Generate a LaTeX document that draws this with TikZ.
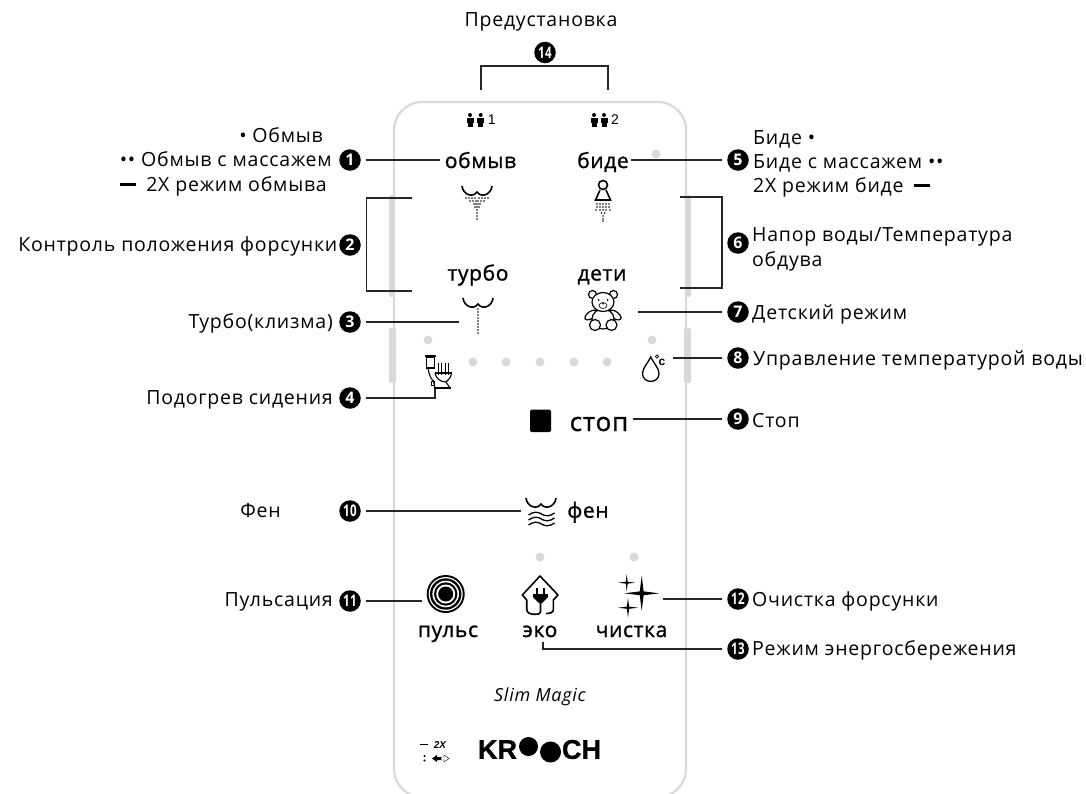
\documentclass[tikz,border=0pt]{standalone}
\usepackage{fontspec}
\setmainfont{Open Sans}[LetterSpace=4]
\newfontfamily\panelfont{Open Sans}[LetterSpace=3,FakeBold=1.1]
\newfontfamily\smallfont{Liberation Sans}
\newfontfamily\logofont{Liberation Sans}[BoldFeatures={FakeBold=1}]
\definecolor{panelgrey}{HTML}{D9D9D9}
\tikzset{
    numdot/.style={circle,fill=black,text=white,minimum size=21.5pt,inner sep=0pt,outer sep=5.5pt,font=\fontsize{16}{16}\selectfont\bfseries},
    lbl/.style={inner sep=0pt,font=\fontsize{19.5}{22}\selectfont},
    btn/.style={inner sep=0pt,anchor=base,font=\fontsize{21}{22}\panelfont},
    lead/.style={line width=1.6pt,black!85},
    panel/.style={line width=2.2pt,panelgrey},
    strip/.style={fill=panelgrey,rounded corners=2pt},
    ico/.style={line width=1.6pt,black}
}
\begin{document}
\begin{tikzpicture}[x=1pt,y=-1pt]
    \useasboundingbox (0,0) rectangle (1086,793);

    % panel
    \fill[strip] (389,195) rectangle (394,297);
    \fill[strip] (389,328) rectangle (396,383);
    \fill[strip] (686,195) rectangle (691,297);
    \fill[strip] (684,328) rectangle (691,383);
    \draw[panel,rounded corners=28pt] (394,102) rectangle (686,797);
    \foreach \dx/\dy in {656/154,428/340,652/340,473/362,506/362,540/362,574/362,607/362,540/557,634/557}
        \fill[panelgrey] (\dx,\dy) circle (4.5pt);

    % numbers
    \node[numdot] (n1) at (350,160) {1};
    \node[numdot] (n2) at (350,245) {2};
    \node[numdot] (n3) at (350,322) {3};
    \node[numdot] (n4) at (350,398) {4};
    \node[numdot] (n5) at (738,160) {5};
    \node[numdot] (n6) at (738,243) {6};
    \node[numdot] (n7) at (738,312) {7};
    \node[numdot] (n8) at (738,358) {8};
    \node[numdot] (n9) at (738,419) {9};
    \node[numdot] (n10) at (350,511) {\scalebox{0.72}[1]{10}};
    \node[numdot] (n11) at (350,601) {\scalebox{0.72}[1]{11}};
    \node[numdot] (n12) at (738,599) {\scalebox{0.72}[1]{12}};
    \node[numdot] (n13) at (738,649) {\scalebox{0.72}[1]{13}};
    \node[numdot] (n14) at (545,52.5) {\scalebox{0.72}[1]{14}};

    % left labels
    \node[lbl,anchor=base east] (l1a) at (323,142) {• Обмыв};
    \node[lbl,anchor=base east] (l1b) at (332,166.5) {•• Обмыв с массажем};
    \node[lbl,anchor=base east] (l1c) at (327,191) {\rule[0.26em]{16pt}{3pt}\hspace{10pt}2X режим обмыва};
    \node[lbl,anchor=base east] (l2) at (337.5,251) {Контроль положения форсунки};
    \node[lbl,anchor=base east] (l3) at (333,328) {Турбо(клизма)};
    \node[lbl,anchor=base east] (l4) at (333,404) {Подогрев сидения};
    \node[lbl,anchor=base east] (l10) at (281,517) {Фен};
    \node[lbl,anchor=base east] (l11) at (333,606) {Пульсация};

    % right labels
    \node[lbl,anchor=base west] (r5a) at (753,144) {Биде •};
    \node[lbl,anchor=base west] (r5b) at (753,168) {Биде с массажем ••};
    \node[lbl,anchor=base west] (r5c) at (753,192) {2X режим биде\hspace{10pt}\rule[0.26em]{16pt}{3pt}};
    \node[lbl,anchor=base west] (r6a) at (752,241) {Напор воды/Температура};
    \node[lbl,anchor=base west] (r6b) at (752,266) {обдува};
    \node[lbl,anchor=base west] (r7) at (752,319) {Детский режим};
    \node[lbl,anchor=base west] (r8) at (753,365) {Управление температурой воды};
    \node[lbl,anchor=base west] (r9) at (752,427) {Стоп};
    \node[lbl,anchor=base west] (r12) at (752,606) {Очистка форсунки};
    \node[lbl,anchor=base west] (r13) at (752,655) {Режим энергосбережения};
    \node[lbl,anchor=base] (t14) at (541,26.7) {Предустановка};

    % buttons
    \node[btn] (obmyv) at (480.5,168) {обмыв};
    \node[btn] (bide) at (603,168) {биде};
    \node[btn] (turbo) at (478,280.5) {турбо};
    \node[btn] (deti) at (602,280.5) {дети};
    \node[btn,font=\fontsize{26}{26}\panelfont] (stop) at (599,431) {стоп};
    \node[btn] (fen) at (588,517.7) {фен};
    \node[btn] (puls) at (448,637) {пульс};
    \node[btn] (eko) at (540,637) {эко};
    \node[btn] (chistka) at (631.5,637) {чистка};
    \node[lbl,font=\fontsize{18}{18}\selectfont\itshape] (model) at (540,697) {Slim Magic};
    \node[inner sep=0pt,font=\fontsize{14}{14}\smallfont] (mem1) at (491.7,120) {1};
    \node[inner sep=0pt,font=\fontsize{14}{14}\smallfont] (mem2) at (615,120) {2};

    % free ends
    \coordinate (c1) at (440,160);
    \coordinate (c5) at (631,160);
    \coordinate (c2a) at (412,198);
    \coordinate (c2b) at (412,291);
    \coordinate (c6a) at (680,197);
    \coordinate (c6b) at (680,288);
    \coordinate (c3) at (459,322);
    \coordinate (c7) at (638,312);
    \coordinate (c8) at (673,358);
    \coordinate (c4) at (435,388);
    \coordinate (c9) at (633,419);
    \coordinate (c10) at (521,511);
    \coordinate (c11) at (422,601);
    \coordinate (c12) at (663,599);
    \coordinate (c13) at (543,642);
    \coordinate (c14a) at (481,90);
    \coordinate (c14b) at (608,90);

    % leaders
    \draw[lead] (n1) -- (c1);
    \draw[lead] (n5) -- (c5);
    \draw[lead] (c2a) -- (366.5,198) -- (366.5,291) -- (c2b);
    \draw[lead] (c6a) -- (722,197) -- (722,288) -- (c6b);
    \draw[lead] (n3) -- (c3);
    \draw[lead] (n7) -- (c7);
    \draw[lead] (n8) -- (c8);
    \draw[lead] (n4) -| (c4);
    \draw[lead] (n9) -- (c9);
    \draw[lead] (n10) -- (c10);
    \draw[lead] (n11) -- (c11);
    \draw[lead] (n12) -- (c12);
    \draw[lead] (n13) -| (c13);
    \draw[lead] (c14a) -- (481,65.7) -- (608,65.7) -- (c14b);

    % people
    \foreach \px in {470,480.7,594,604} {
        \fill (\px,115) circle (2pt);
        \fill (\px-3.5,118) rectangle (\px+3.5,123);
        \fill (\px-2.5,123) rectangle (\px+2.5,126.5);
    }

    % wash curves
    \foreach \ox/\oy in {477/186,478/298,541/498}
        \draw[ico,shift={(\ox,\oy)}] (-15,0) .. controls (-14,9) and (-4,12) .. (0,6) .. controls (4,12) and (14,9) .. (15,0);

    % spray of washing
    \foreach \sx/\sy in {-11/198,-8/198,-5/198,-2/198,2/198,5/198,8/198,11/198,-7/201,-4/201,-1/201,1/201,4/201,7/201,-3/204,-1/204,1/204,3/204,-2/207,0/207,2/207,0/210,0/213,0/216,0/219}
        \fill (477+\sx,\sy) circle (0.9pt);

    % bidet
    \draw[ico] (603,185) circle (4.5pt);
    \draw[ico] (600,190) -- (595.5,200) -- (610.5,200) -- (606,190);
    \foreach \sx/\sy in {-6/204,-3/204,0/204,3/204,6/204,-6/207,-3/207,0/207,3/207,6/207,-3/210,0/210,3/210,-7/210,7/210,-1.5/213,1.5/213,0/216,0/219,0/221}
        \fill (603+\sx,\sy) circle (0.9pt);

    % turbo stream
    \foreach \sy in {309,312,315,318,321,324,327,330,333}
        \fill (478,\sy) circle (0.9pt);

    % bear
    \draw[ico,line width=1.2pt,fill=white] (592.5,294.5) circle (4pt);
    \draw[ico,line width=1.2pt,fill=white] (613.5,294.5) circle (4pt);
    \draw[ico,line width=1.2pt,fill=white,rotate around={35:(591,315)}] (591,315) ellipse (7pt and 3.5pt);
    \draw[ico,line width=1.2pt,fill=white,rotate around={-35:(615,315)}] (615,315) ellipse (7pt and 3.5pt);
    \draw[ico,line width=1.2pt,fill=white] (603,319) ellipse (11pt and 10pt);
    \draw[ico,line width=1.2pt,fill=white] (595,325) circle (5.5pt);
    \draw[ico,line width=1.2pt,fill=white] (611.5,325) circle (5.5pt);
    \draw[ico,line width=1.2pt,fill=white] (603,302) ellipse (11pt and 9.5pt);
    \draw[ico,line width=0.6pt] (603,305.5) ellipse (4pt and 3pt);
    \fill (598.5,300) circle (1pt);
    \fill (607.5,300) circle (1pt);
    \fill (603,303.5) circle (1pt);

    % toilet
    \draw[ico,line width=1.5pt] (425,356) -- (436,356);
    \draw[ico,line width=1.1pt] (426.5,357) rectangle (434.5,368);
    \draw[ico,line width=1.1pt] (428,368) .. controls (429,375) and (431,379) .. (433.5,381) -- (435,388);
    \draw[ico,line width=1.1pt] (435,373) .. controls (436,378) and (440,382) .. (446,382) .. controls (449,380) and (451,377) .. (451.5,373);
    \draw[ico,line width=1.1pt] (446,382) -- (450,388);
    \draw[ico,line width=1.3pt] (434,388) -- (450.5,388);
    \foreach \hx in {438.3,441.7,445,448.3}
        \draw[ico,line width=1pt] (\hx,363) -- (\hx,375);
    \draw[ico,line width=1.4pt] (435,373) -- (451.5,373);
    \draw[ico,line width=1pt] (431,381) rectangle (434,385);

    % drop
    \draw[ico,line width=1.3pt] (650.7,357) .. controls (648,363) and (642.5,368) .. (642.5,373.5) .. controls (642.5,384) and (659,384) .. (659,373.5) .. controls (659,368) and (653.5,363) .. (650.7,357) -- cycle;
    \draw[ico,line width=0.8pt] (657,356.5) circle (1.6pt);
    \node[inner sep=0pt,font=\fontsize{12}{12}\smallfont\bfseries] (dropc) at (662,362) {c};

    % stop
    \fill[rounded corners=1.5pt] (530,409.5) rectangle (551,432);

    % fen waves
    \foreach \wy in {514,519,524}
        \draw[ico,line width=1.3pt,shift={(541.5,\wy)}] (-13,1) .. controls (-8,-2.5) and (-4,-2.5) .. (0,0) .. controls (4,2.5) and (8,2.5) .. (13,-1);

    % pulse
    \foreach \pr/\pc in {19/black,17/white,15.7/black,13.3/white,11.7/black,9.5/white,7.5/black}
        \fill[\pc] (445.7,594) circle (\pr pt);

    % eco house
    \draw[ico,line join=round] (535,614.3) .. controls (530,614.3) and (526.7,613) .. (526.7,609) -- (526.7,600) -- (522.3,595) -- (540,576) -- (558,595) -- (553.3,600) -- (553.3,610) .. controls (553.3,612.5) and (550,613.5) .. (546,613.5);
    \fill (533,593.5) rectangle (548,597);
    \fill (533,597) -- (548,597) -- (542,603) -- (539,603) -- cycle;
    \fill (535.8,588) rectangle (537.8,593.5);
    \fill (543.2,588) rectangle (545.2,593.5);
    \draw[ico] (540.5,602) -- (540.5,612) .. controls (540.5,614) and (538,614.3) .. (535,614.3);

    % sparkles
    \foreach \kx/\ky/\kr in {641.7/593.3/17.5,626.7/582.7/8.5,628/607.7/10}
        \fill (\kx-\kr,\ky) -- (\kx-0.11*\kr,\ky-0.11*\kr) -- (\kx,\ky-\kr) -- (\kx+0.11*\kr,\ky-0.11*\kr) -- (\kx+\kr,\ky) -- (\kx+0.11*\kr,\ky+0.11*\kr) -- (\kx,\ky+\kr) -- (\kx-0.11*\kr,\ky+0.11*\kr) -- cycle;

    % logo
    \node[inner sep=0pt,font=\fontsize{27}{27}\logofont\bfseries] (logoa) at (497.5,749.5) {KR};
    \node[inner sep=0pt,font=\fontsize{27}{27}\logofont\bfseries] (logob) at (581.5,749.5) {CH};
    \fill (528.5,746.5) circle (9.5pt);
    \fill (550.5,752) circle (10.5pt);

    % small legend
    \draw[line width=1.5pt] (420,744.5) -- (428,744.5);
    \node[inner sep=0pt,font=\fontsize{10}{10}\smallfont\bfseries\itshape] (twox) at (440,744.5) {2X};
    \fill (424.5,756) circle (1.2pt);
    \fill (424.5,760.5) circle (1.2pt);
    \fill (432,758.5) -- (437,755) -- (437,757) -- (441,757) -- (441,760) -- (437,760) -- (437,762) -- cycle;
    \draw[line width=0.4pt] (449,758.5) -- (444,755) -- (444,757) -- (441,757) -- (441,760) -- (444,760) -- (444,762) -- cycle;
\end{tikzpicture}
\end{document}
